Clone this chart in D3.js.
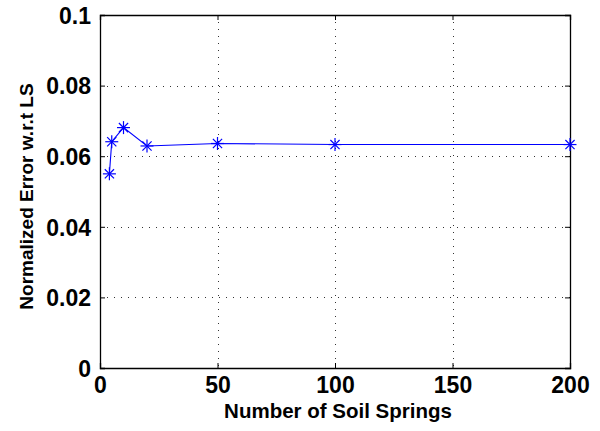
<!DOCTYPE html>
<html><head><meta charset="utf-8">
<script src="https://cdn.jsdelivr.net/npm/d3@7"></script>
<style>body{margin:0;background:#fff}</style>
</head><body>
<svg id="c" width="600" height="431"></svg>
<script>
const springs = [4, 5, 10, 20, 50, 100, 200];
const errors = [0.055, 0.0641, 0.0681, 0.0629, 0.0636, 0.0633, 0.0633];
const xTicks = [0, 50, 100, 150, 200];
const yTicks = [0, 0.02, 0.04, 0.06, 0.08, 0.1];
const yTickLabels = ["0", "0.02", "0.04", "0.06", "0.08", "0.1"];

const svg = d3.select("#c");
const L = 100, R = 570, T = 15, B = 368;
const x = d3.scaleLinear().domain([0, 200]).range([L, R]);
const y = d3.scaleLinear().domain([0, 0.1]).range([B, T]);
const font = "'Liberation Sans', Arial, sans-serif";

// grid
const g = svg.append("g");
g.selectAll(".vg").data(xTicks.filter(d => d > 0 && d < 200)).enter().append("line")
  .attr("x1", d => Math.round(x(d)) + 0.5).attr("x2", d => Math.round(x(d)) + 0.5)
  .attr("y1", T).attr("y2", B)
  .attr("stroke", "#333").attr("stroke-width", 1).attr("stroke-dasharray", "1,6");
g.selectAll(".hg").data(yTicks.filter(d => d > 0 && d < 0.1)).enter().append("line")
  .attr("y1", d => Math.round(y(d)) + 0.5).attr("y2", d => Math.round(y(d)) + 0.5)
  .attr("x1", L).attr("x2", R)
  .attr("stroke", "#333").attr("stroke-width", 1).attr("stroke-dasharray", "1,6");

// axes
const xAxis = svg.append("g").attr("transform", `translate(0,${B})`)
  .call(d3.axisBottom(x).tickValues(xTicks).tickSize(-5).tickPadding(9).tickFormat(d3.format("d")));
const xAxisTop = svg.append("g").attr("transform", `translate(0,${T})`)
  .call(d3.axisTop(x).tickValues(xTicks).tickSize(-5).tickFormat(""));
const yAxis = svg.append("g").attr("transform", `translate(${L},0)`)
  .call(d3.axisLeft(y).tickValues(yTicks).tickSize(-5).tickPadding(9).tickFormat((d, i) => yTickLabels[i]));
const yAxisR = svg.append("g").attr("transform", `translate(${R},0)`)
  .call(d3.axisRight(y).tickValues(yTicks).tickSize(-5).tickFormat(""));
[xAxis, xAxisTop, yAxis, yAxisR].forEach(a => {
  a.select(".domain").attr("stroke", "#000").attr("stroke-width", 1.3);
  a.selectAll(".tick line").attr("stroke", "#000");
  a.selectAll("text").attr("font-family", font).attr("font-weight", "bold")
    .attr("font-size", 23).attr("fill", "#000");
});
xAxis.selectAll("text").attr("dy", "0.71em");
yAxis.selectAll("text").attr("dy", "0.36em");

// line
svg.append("path").datum(springs.map((s, i) => [s, errors[i]]))
  .attr("fill", "none").attr("stroke", "#0000ff").attr("stroke-width", 1.1)
  .attr("d", d3.line().x(d => x(d[0])).y(d => y(d[1])));

// markers (asterisk)
const m = svg.append("g").selectAll("g").data(springs.map((s, i) => [s, errors[i]])).enter()
  .append("g").attr("transform", d => `translate(${x(d[0])},${y(d[1])})`);
const r = 6.5, rd = 4.6;
[[-r,0,r,0],[0,-r,0,r],[-rd,-rd,rd,rd],[-rd,rd,rd,-rd]].forEach(s => {
  m.append("line").attr("x1", s[0]).attr("y1", s[1]).attr("x2", s[2]).attr("y2", s[3])
    .attr("stroke", "#0000ff").attr("stroke-width", 1.2);
});

// labels
svg.append("text").attr("x", (L + R) / 2 + 3).attr("y", 418).attr("text-anchor", "middle")
  .attr("font-family", font).attr("font-weight", "bold").attr("font-size", 20.5)
  .text("Number of Soil Springs");
svg.append("text").attr("transform", `translate(33,${(T + B) / 2 + 5}) rotate(-90)`)
  .attr("text-anchor", "middle")
  .attr("font-family", font).attr("font-weight", "bold").attr("font-size", 19)
  .text("Normalized Error w.r.t LS");
</script>
</body></html>
